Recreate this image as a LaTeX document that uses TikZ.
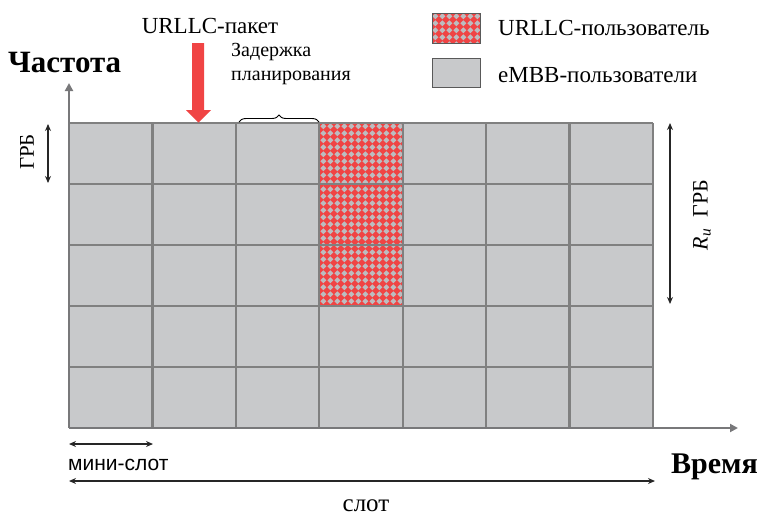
\documentclass[tikz,border=0pt]{standalone}
\usepackage{fontspec}
\setmainfont{Liberation Serif}
\newfontfamily\sansfnt{Liberation Sans}
\usetikzlibrary{arrows.meta,decorations.pathreplacing}

\definecolor{cellgray}{RGB}{200,201,203}
\definecolor{dotgray}{RGB}{188,189,192}
\definecolor{urred}{RGB}{240,68,68}
\definecolor{linegray}{RGB}{128,128,128}
\definecolor{axisgray}{RGB}{120,120,122}

\tikzset{
  gridline/.style={draw=linegray, line width=2.4pt},
  axisline/.style={draw=axisgray, line width=2.2pt, -{Triangle[length=8pt,width=8pt]}},
  dimarrow/.style={draw=black!85, line width=1.3pt, {Stealth[length=7pt,width=6pt]}-{Stealth[length=7pt,width=6pt]}},
  lbl/.style={inner sep=0pt, font=\rmfamily\fontsize{21}{24}\selectfont},
  biglbl/.style={inner sep=0pt, font=\rmfamily\fontsize{31}{34}\selectfont\bfseries},
  legendbox/.style={draw=black!65, line width=0.9pt},
}

% red block sprinkled with small grey diamonds
\newcommand{\diamondfill}[4]{%
  \fill[urred] (#1,#2) rectangle (#3,#4);
  \begin{scope}
    \clip (#1,#2) rectangle (#3,#4);
    \foreach \ci in {0,...,13}{
      \foreach \cj in {0,...,27}{
        \fill[dotgray] ({#1+3.3+7*\ci},{#2+0.3+7*\cj}) -- ++(3,3) -- ++(-3,3) -- ++(-3,-3) -- cycle;
      }
    }
  \end{scope}
}

\begin{document}
\begin{tikzpicture}[x=1pt,y=-1pt]
\useasboundingbox (0,0) rectangle (761,517);

% resource grid: 7 mini-slots by 5 resource blocks
\fill[cellgray] (69,123) rectangle (653,428);
\diamondfill{320.1}{123}{403.6}{306}
\foreach \k in {0,...,7}{
  \draw[gridline] ({69+\k*83.43},123) -- ({69+\k*83.43},428);
}
\foreach \k in {0,...,5}{
  \draw[gridline] (69,{123+\k*61}) -- (653,{123+\k*61});
}

% axes
\coordinate (origin) at (69,428);
\coordinate (ftop) at (69,83);
\coordinate (tend) at (738,428);
\draw[axisline] (origin) -- (ftop);
\draw[axisline] (origin) -- (tend);

% incoming URLLC packet
\fill[urred] (192,43) -- (204,43) -- (204,110) -- (211,110) -- (198.5,122.5)
  -- (186,110) -- (192,110) -- cycle;
\node[lbl, font=\fontsize{23}{26}\selectfont, anchor=base] (pkt) at (210,33) {URLLC-пакет};

% scheduling delay brace
\coordinate (bl) at (239,122);
\coordinate (br) at (319,122);
\draw[black, line width=0.9pt, decorate, decoration={brace, amplitude=7pt}] (bl) -- (br);
\node[lbl, font=\fontsize{20}{24}\selectfont, anchor=base west, align=left] (delay) at (231,80)
  {Задержка\\планирования};

% axis titles
\node[biglbl, anchor=base west] (freq) at (8,72) {Частота};
\node[biglbl, font=\fontsize{30}{34}\selectfont\bfseries, anchor=base west] (time) at (671,473) {Время};

% legend
\diamondfill{432}{13}{480}{43}
\draw[legendbox] (432,13) rectangle (480,43);
\fill[cellgray] (432,58) rectangle (480,87);
\draw[legendbox] (432,58) rectangle (480,87);
\node[lbl, font=\fontsize{23}{26}\selectfont, anchor=base west] (leg1) at (498,35) {URLLC-пользователь};
\node[lbl, font=\fontsize{23}{26}\selectfont, anchor=base west] (leg2) at (498,82) {eMBB-пользователи};

% one resource block
\coordinate (rbt) at (48,124);
\coordinate (rbb) at (48,183);
\draw[dimarrow] (rbt) -- (rbb);
\node[lbl, font=\fontsize{21}{26}\selectfont, rotate=90] (rb) at (27,152) {ГРБ};

% R_u resource blocks
\coordinate (rut) at (670,123);
\coordinate (rub) at (670,304);
\draw[dimarrow] (rut) -- (rub);
\node[lbl, font=\fontsize{22}{26}\selectfont, rotate=90] (ru) at (702,215) {\textit{R}\textsubscript{\textit{u}}\ \ ГРБ};

% mini-slot and slot durations
\coordinate (msl) at (69,444);
\coordinate (msr) at (153,444);
\draw[dimarrow] (msl) -- (msr);
\node[lbl, font=\sansfnt\fontsize{21}{24}\selectfont, anchor=base west] (mini) at (68,470) {мини-слот};

\coordinate (sl) at (69,481);
\coordinate (sr) at (655,481);
\draw[dimarrow] (sl) -- (sr);
\node[lbl, font=\fontsize{25}{27}\selectfont, text depth=0pt, anchor=base] (slot) at (366,511) {слот};
\end{tikzpicture}
\end{document}
